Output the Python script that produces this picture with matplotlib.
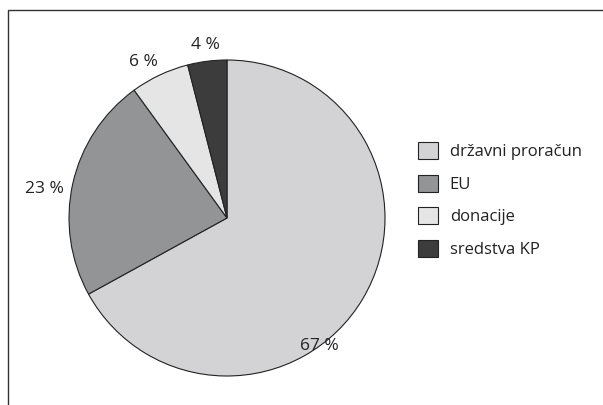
import numpy as np
import matplotlib.pyplot as plt
from matplotlib.patches import Rectangle, Patch

plt.rcParams['font.family'] = ['Open Sans', 'DejaVu Sans']

# Data
labels = ['državni proračun', 'EU', 'donacije', 'sredstva KP']
shares = [67, 23, 6, 4]
colors = ['#d3d3d5', '#939496', '#e5e5e6', '#3c3c3c']
# label placement (angle in degrees, radius relative to pie radius)
label_pos = [(-54, 1.0), (171, 1.17), (118, 1.12), (97, 1.10)]

fig = plt.figure(figsize=(6.03, 4.05), dpi=100)
ax = fig.add_axes([227/603 - 158/603, 1 - (218+158)/405, 316/603, 316/405])

wedges, _ = ax.pie(shares, colors=colors, startangle=90, counterclock=False,
                   wedgeprops=dict(edgecolor='#222222', linewidth=0.8))
ax.set_aspect('equal')
ax.set_xlim(-1, 1)
ax.set_ylim(-1, 1)

for val, (ang, r) in zip(shares, label_pos):
    a = np.deg2rad(ang)
    ax.text(r*np.cos(a), r*np.sin(a), f'{val} %', ha='center', va='center',
            fontsize=12.5, color='#222222', clip_on=False)

# legend
handles = [Patch(facecolor=c, edgecolor='#222222', linewidth=0.8) for c in colors]
fig.legend(handles, labels, loc='upper left', bbox_to_anchor=(403/603, 1 - 127/405),
           frameon=False, fontsize=12, handlelength=1.2, handleheight=1.2,
           labelspacing=0.87, handletextpad=0.7, labelcolor='#222222')

# frame
fig.patches.append(Rectangle((8/603, -0.1), 1.2, 1 - 10/405 + 0.1, transform=fig.transFigure,
                             fill=False, edgecolor='#333333', linewidth=1))

fig.savefig('out.png', dpi=100)
